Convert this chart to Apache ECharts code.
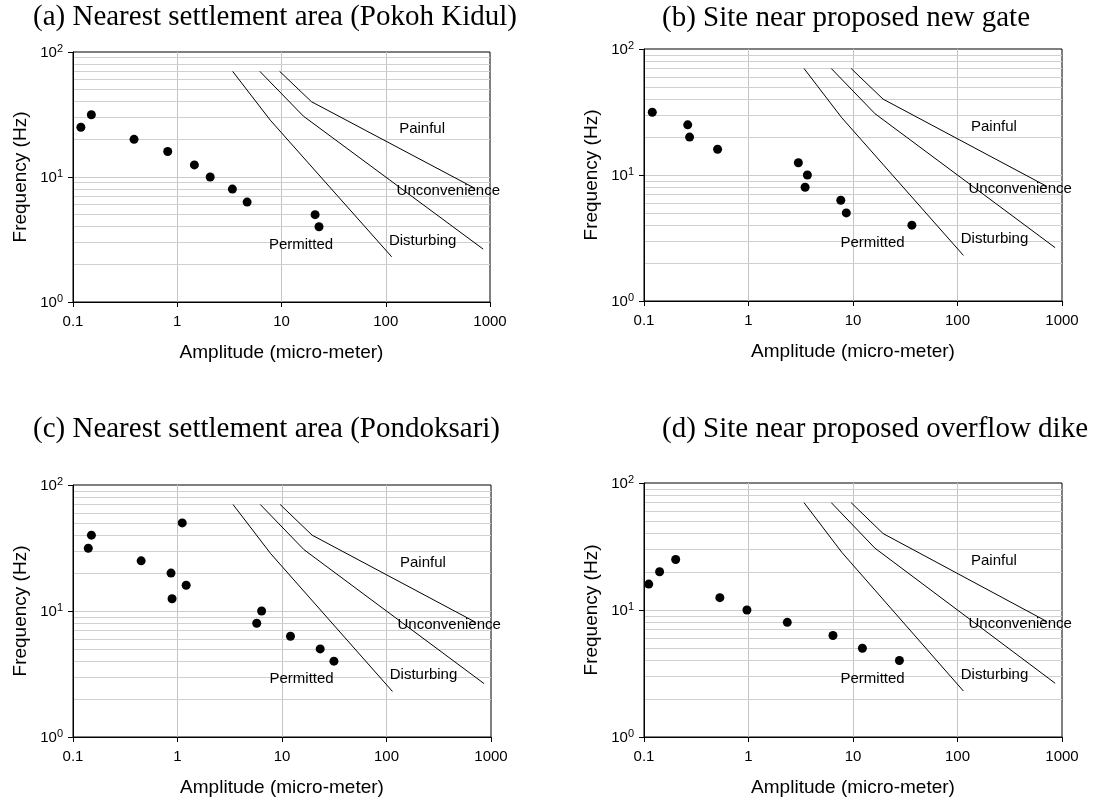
<!DOCTYPE html>
<html>
<head>
<meta charset="utf-8">
<script src="https://cdn.jsdelivr.net/npm/echarts@6/dist/echarts.min.js"></script>
<style>
  html, body { margin: 0; padding: 0; background: #fff; }
  #chart { width: 1100px; height: 798px; }
</style>
</head>
<body>
<div id="chart"></div>
<script>
// ---- Data ----
const panelTitles = [
  '(a) Nearest settlement area (Pokoh Kidul)',
  '(b) Site near proposed new gate',
  '(c) Nearest settlement area (Pondoksari)',
  '(d) Site near proposed overflow dike'
];

const aAmp  = [0.119, 0.150, 0.385, 0.81, 1.46, 2.07, 3.38, 4.68, 21, 22.9];
const aFreq = [25, 31.5, 20, 16, 12.5, 10, 8, 6.3, 5, 4];

const bAmp  = [0.12, 0.262, 0.273, 0.506, 3.0, 3.66, 3.48, 7.64, 8.63, 36.6];
const bFreq = [31.5, 25, 20, 16, 12.5, 10, 8, 6.3, 5, 4];

const cAmp  = [0.14, 0.15, 0.449, 0.867, 0.887, 1.11, 1.21, 6.38, 5.73, 12.05, 23.2, 31.4];
const cFreq = [31.5, 40, 25, 20, 12.5, 50, 16, 10, 8, 6.3, 5, 4];

const dAmp  = [0.111, 0.141, 0.201, 0.532, 0.966, 2.35, 6.43, 12.3, 27.8];
const dFreq = [16, 20, 25, 12.5, 10, 8, 6.3, 5, 4];

// criteria boundary lines (same in every panel)
const permittedAmp  = [3.4, 7.8, 114];
const permittedFreq = [70, 28.5, 2.3];
const disturbingAmp  = [6.2, 16.2, 860];
const disturbingFreq = [70, 30.7, 2.65];
const unconvAmp  = [9.6, 19.4, 720];
const unconvFreq = [70, 40, 8.1];

// zone labels
const zoneNames = ['Painful', 'Unconvenience', 'Disturbing', 'Permitted'];
const zoneAmp   = [223, 398, 226, 15.4];
const zoneFreq  = [24.2, 7.8, 3.1, 2.88];

// axis ticks
const xTickLabels = ['0.1', '1', '10', '100', '1000'];
const yTickExps   = ['0', '1', '2'];
const yMinorGrid  = [2, 3, 4, 5, 6, 7, 8, 9, 20, 30, 40, 50, 60, 70, 80, 90];

// ---- Layout ----
const grids = [
  { left: 73,  top: 52,  width: 417, height: 250 },
  { left: 644, top: 49,  width: 418, height: 252 },
  { left: 73,  top: 485, width: 418, height: 253 },
  { left: 644, top: 483, width: 418, height: 255 }
];
const titlePos = [
  { left: 33,  top: 2 },
  { left: 662, top: 3 },
  { left: 33,  top: 414 },
  { left: 662, top: 414 }
];
const panelAmp  = [aAmp, bAmp, cAmp, dAmp];
const panelFreq = [aFreq, bFreq, cFreq, dFreq];

const SANS = 'Liberation Sans, Arial, sans-serif';
const SERIF = 'Liberation Serif, Times New Roman, serif';

const zip = (xs, ys) => xs.map((x, i) => [x, ys[i]]);

const option = {
  backgroundColor: '#fff',
  animation: false,
  title: panelTitles.map((t, i) => ({
    text: t, left: titlePos[i].left, top: titlePos[i].top, padding: 0,
    textStyle: { fontFamily: SERIF, fontSize: 29, fontWeight: 'normal', color: '#000', lineHeight: 30 }
  })),
  grid: grids.map(g => Object.assign({ show: true, borderColor: '#000', borderWidth: 1, backgroundColor: 'transparent' }, g)),
  xAxis: grids.map((g, i) => ({
    type: 'log', logBase: 10, gridIndex: i, min: 0.1, max: 1000,
    name: 'Amplitude (micro-meter)', nameLocation: 'middle', nameGap: 41,
    nameTextStyle: { fontFamily: SANS, fontSize: 19, color: '#000' },
    axisLine: { show: true, lineStyle: { color: '#000', width: 1 } },
    axisTick: { show: true, inside: false, length: 5, lineStyle: { color: '#000' } },
    axisLabel: { fontFamily: SANS, fontSize: 15, color: '#000', margin: 12,
      formatter: (v, idx) => xTickLabels[idx] !== undefined ? xTickLabels[idx] : '' },
    splitLine: { show: true, showMinLine: false, showMaxLine: false, lineStyle: { color: '#c4c4c4', width: 1 } },
    minorTick: { show: false }, minorSplitLine: { show: false }
  })),
  yAxis: grids.map((g, i) => ({
    type: 'log', logBase: 10, gridIndex: i, min: 1, max: 100,
    name: 'Frequency (Hz)', nameLocation: 'middle', nameGap: 43,
    nameTextStyle: { fontFamily: SANS, fontSize: 19, color: '#000' },
    axisLine: { show: true, lineStyle: { color: '#000', width: 1 } },
    axisTick: { show: true, inside: false, length: 5, lineStyle: { color: '#000' } },
    axisLabel: { margin: 10,
      formatter: (v, idx) => '{b|10}{s|' + (yTickExps[idx] !== undefined ? yTickExps[idx] : '') + '}',
      rich: {
        b: { fontFamily: SANS, fontSize: 15, color: '#000', lineHeight: 17, verticalAlign: 'bottom' },
        s: { fontFamily: SANS, fontSize: 11, color: '#000', lineHeight: 17, verticalAlign: 'top' }
      }
    },
    splitLine: { show: true, showMinLine: false, showMaxLine: false, lineStyle: { color: '#cccccc', width: 1 } },
    minorTick: { show: false }, minorSplitLine: { show: false }
  })),
  series: []
};

grids.forEach((g, i) => {
  // horizontal minor grid lines
  option.series.push({
    type: 'line', xAxisIndex: i, yAxisIndex: i, data: [], silent: true, z: 0,
    markLine: {
      silent: true, symbol: ['none', 'none'], animation: false, z: 0,
      label: { show: false },
      lineStyle: { color: '#d0d0d0', width: 1, type: 'solid', opacity: 1 },
      emphasis: { disabled: true },
      data: yMinorGrid.map(v => ({ yAxis: v }))
    }
  });
  // criteria lines
  [[permittedAmp, permittedFreq], [disturbingAmp, disturbingFreq], [unconvAmp, unconvFreq]].forEach(p => {
    option.series.push({
      type: 'line', xAxisIndex: i, yAxisIndex: i, data: zip(p[0], p[1]),
      showSymbol: false, symbol: 'none', silent: true, z: 3,
      lineStyle: { color: '#000', width: 1, opacity: 1 }
    });
  });
  // measured points
  option.series.push({
    type: 'scatter', xAxisIndex: i, yAxisIndex: i, data: zip(panelAmp[i], panelFreq[i]),
    symbol: 'circle', symbolSize: 9, itemStyle: { color: '#000', opacity: 1 }, z: 6, silent: true
  });
  // zone labels
  option.series.push({
    type: 'scatter', xAxisIndex: i, yAxisIndex: i, silent: true, z: 7,
    symbol: 'circle', symbolSize: 1, itemStyle: { color: 'rgba(0,0,0,0)', opacity: 1 },
    data: zoneNames.map((n, k) => ({ name: n, value: [zoneAmp[k], zoneFreq[k]] })),
    label: { show: true, position: 'inside', formatter: '{b}', fontFamily: SANS, fontSize: 15, color: '#000' }
  });
});

const chart = echarts.init(document.getElementById('chart'), null, { renderer: 'canvas' });
chart.setOption(option);
</script>
</body>
</html>
